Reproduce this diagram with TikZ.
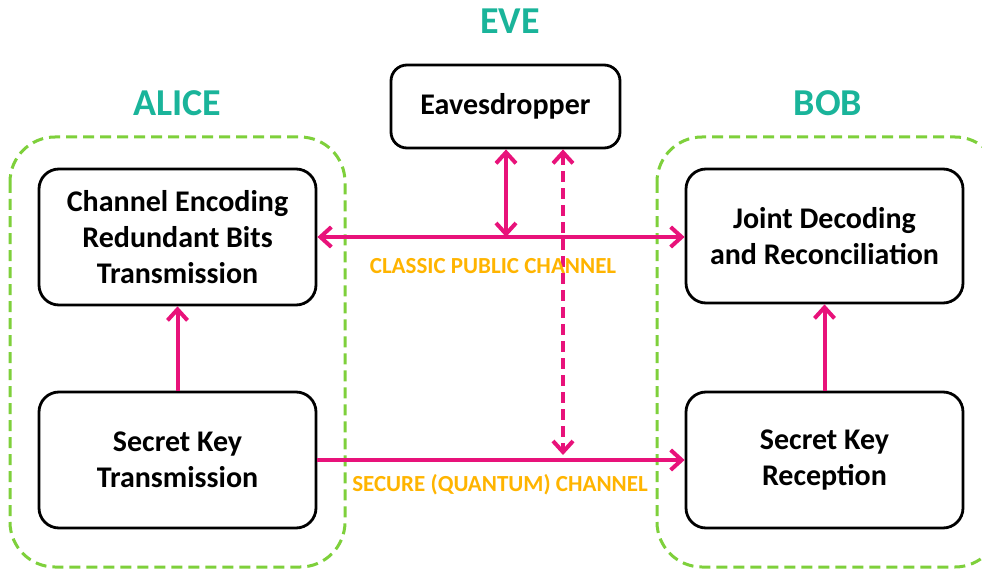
\documentclass[tikz,border=0pt]{standalone}
\usepackage{fontspec}
\setmainfont{Carlito}
\usetikzlibrary{arrows.meta}
\definecolor{pinkc}{HTML}{E8127A}
\definecolor{greenc}{HTML}{7ED03B}
\definecolor{tealc}{HTML}{1AB49A}
\definecolor{orangec}{HTML}{FFB400}
\tikzset{
  box/.style={draw=black, line width=2.8pt, rounded corners=20pt, minimum width=277pt, align=center, font=\fontsize{30}{36}\selectfont\bfseries, inner sep=0pt},
  party/.style={draw=greenc, line width=3pt, dash pattern=on 11pt off 6pt, rounded corners=45pt},
  title/.style={text=tealc, font=\fontsize{38}{44}\selectfont\bfseries, inner sep=0pt},
  chan/.style={text=orangec, font=\fontsize{23}{27}\selectfont\bfseries, inner sep=0pt},
  conn/.style={draw=pinkc, line width=4pt, -{Straight Barb[length=11pt,width=20pt,line width=4pt]}},
  conn2/.style={conn, {Straight Barb[length=11pt,width=20pt,line width=4pt]}-{Straight Barb[length=11pt,width=20pt,line width=4pt]}},
}
\begin{document}
\begin{tikzpicture}[x=1pt,y=-1pt]
\useasboundingbox (0,0) rectangle (982,572);
\clip (0,0) rectangle (982,572);
% containers
\draw[party] (10,137) rectangle (345,567);
\draw[party] (657,137) rectangle (1000,567);
% titles
\node[title] (eve) at (510,21) {EVE};
\node[title] (alice) at (177,103) {ALICE};
\node[title] (bob) at (828,103) {BOB};
% boxes
\node[box, minimum height=136pt] (ce) at (177.5,237) {Channel Encoding\\Redundant Bits\\Transmission};
\node[box, minimum height=136pt] (skt) at (177.5,460) {Secret Key\\Transmission};
\node[box, minimum height=134pt] (jd) at (824.5,236) {Joint Decoding\\and Reconciliation};
\node[box, minimum height=136pt] (skr) at (824.5,460) {Secret Key\\Reception};
\node[box, minimum width=229pt, minimum height=83pt, rounded corners=16pt] (eav) at (505.5,106.5) {Eavesdropper};
% connectors
\coordinate (pj) at (506,237);
\coordinate (qd) at (563,455);
\draw[conn2] (ce.east |- 0,237) -- (jd.west |- 0,237);
\draw[conn2] (eav.south -| pj) -- (pj);
\draw[conn2, dash pattern=on 11pt off 6pt] (eav.south -| qd) -- (qd);
\draw[conn] (skt.east) -- (skr.west);
\draw[conn] (skt.north) -- (ce.south);
\draw[conn] (skr.north) -- (jd.south);
% channel labels
\node[chan] (cpc) at (493,266) {CLASSIC PUBLIC CHANNEL};
\node[chan] (sqc) at (500,485) {SECURE (QUANTUM) CHANNEL};
\end{tikzpicture}
\end{document}
